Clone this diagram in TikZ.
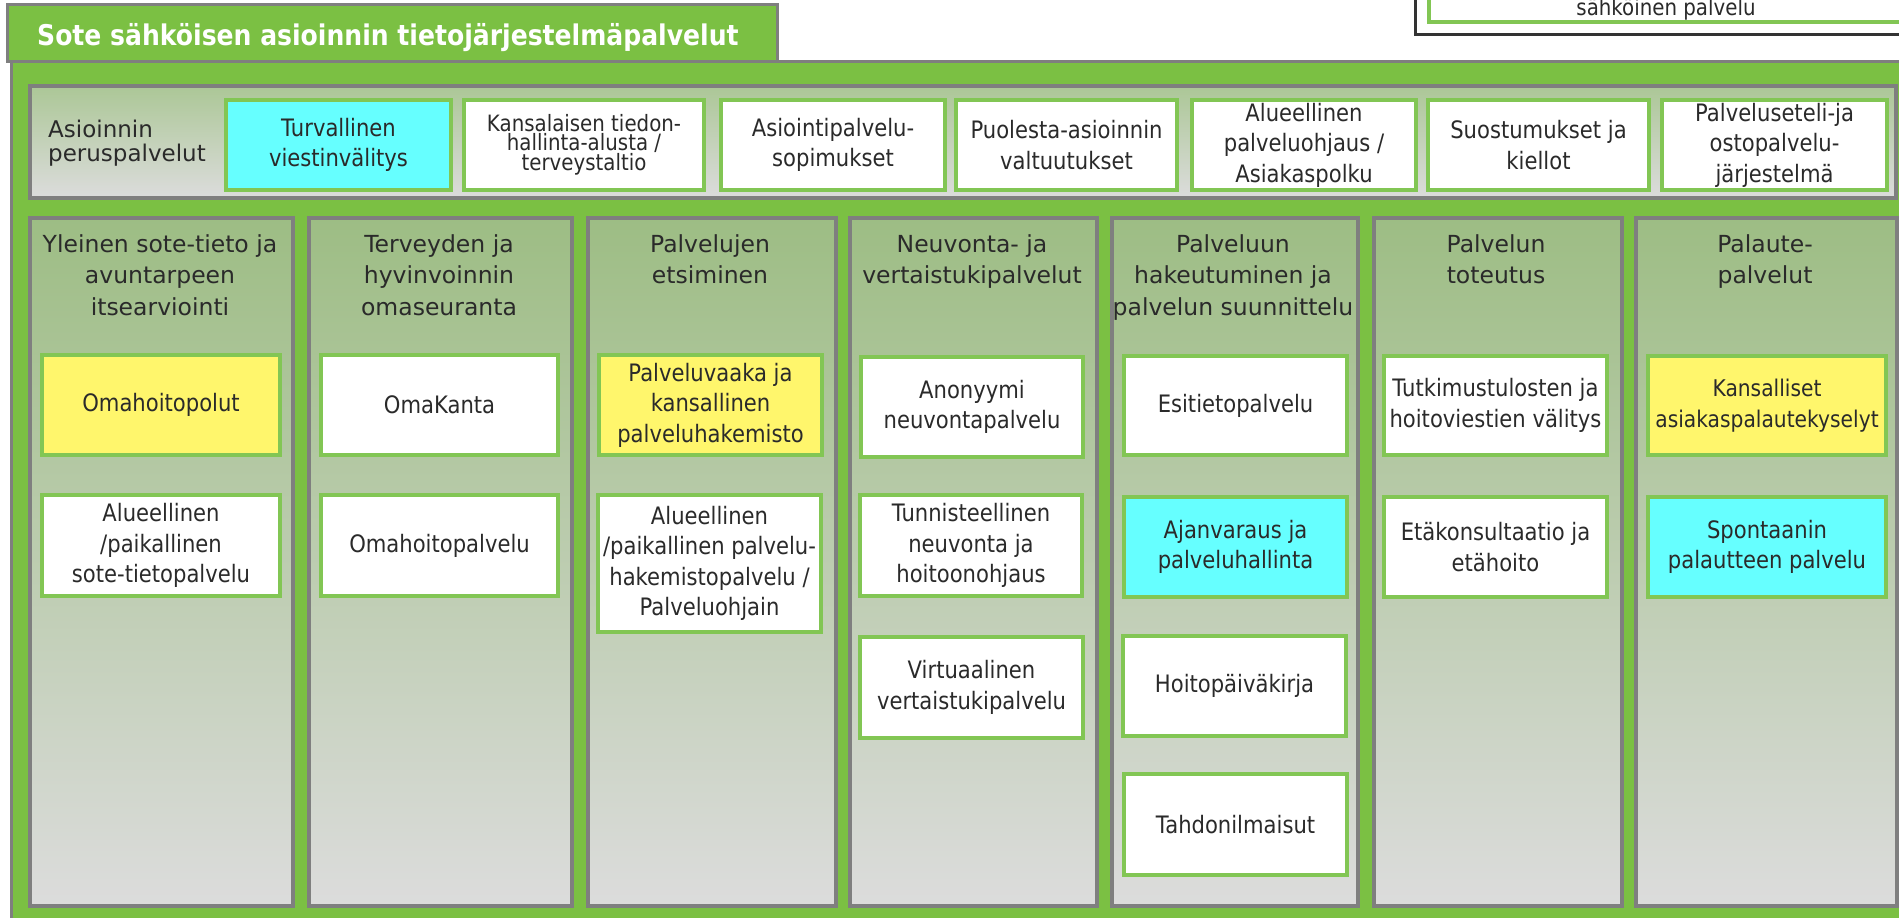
\documentclass[tikz,border=0pt]{standalone}
\usepackage{fontspec}
\setmainfont{DejaVu Sans}
\newfontfamily\nfont[FakeStretch=0.88]{DejaVu Sans}
\definecolor{grn}{HTML}{7BC043}
\definecolor{bgrn}{HTML}{82C654}
\definecolor{cyn}{HTML}{66FFFF}
\definecolor{ylw}{HTML}{FFF66C}
\definecolor{pgray}{HTML}{7F7F7F}
\definecolor{ptop}{HTML}{9DBD84}
\definecolor{pbot}{HTML}{DCDCDC}
\definecolor{txt}{HTML}{2A2A2A}
\tikzset{
  panel/.style={draw=pgray, line width=4pt, top color=ptop, bottom color=pbot, inner sep=0pt, anchor=north west},
  svc/.style={draw=bgrn, line width=4pt, fill=white, inner sep=1pt, anchor=north west, align=center,
              font=\nfont\fontsize{24}{30.5}\selectfont, text=txt},
  cyanbox/.style={svc, fill=cyn},
  yellowbox/.style={svc, fill=ylw},
  head/.style={anchor=north, align=center, inner sep=0pt, font=\fontsize{23.5}{31.5}\selectfont, text=txt}
}
\newcommand\bx[7]{%
  \pgfmathsetmacro\bxw{#5-#3-4}\pgfmathsetmacro\bxh{#6-#4-4}%
  \node[#2, minimum width=\bxw pt, minimum height=\bxh pt] (#1) at (#3+2,#4+2) {#7};}
\begin{document}
\begin{tikzpicture}[x=1pt,y=-1pt]
\useasboundingbox (0,0) rectangle (1899,918);
\fill[white] (0,0) rectangle (1899,918);
\clip (0,0) rectangle (1899,918);
% outer green panel
\node[draw=pgray, line width=3pt, fill=grn, inner sep=0pt, anchor=north west,
      minimum width=1920pt, minimum height=880pt] (outer) at (10,60) {};
% title tab
\node[draw=pgray, line width=3pt, fill=grn, inner sep=0pt, anchor=north west,
      minimum width=770pt, minimum height=57pt] (tab) at (6,3) {};
\node[anchor=base west, inner sep=0pt, text=white,
      font=\nfont\bfseries\fontsize{28.5}{30}\selectfont] (title) at (37,45)
      {Sote sähköisen asioinnin tietojärjestelmäpalvelut};
% legend box (cut by the top and right edges)
\node[draw=black!80, line width=2.5pt, fill=white, inner sep=0pt, anchor=north west,
      minimum width=520pt, minimum height=45pt] (legend) at (1414,-12) {};
\node[draw=bgrn, line width=3.5pt, fill=white, inner sep=0pt, anchor=north west,
      minimum width=500pt, minimum height=32pt] (legendin) at (1427,-12) {};
\node[anchor=base, inner sep=0pt, text=txt, font=\nfont\fontsize{22.5}{24}\selectfont]
      (legendtxt) at (1666,16) {sähköinen palvelu};
% top row panel
\node[panel, top color=ptop!85!white, minimum width=1866pt, minimum height=112pt] (toprow) at (28,84) {};
\node[anchor=north west, align=left, inner sep=0pt, text=txt,
      font=\fontsize{23}{24}\selectfont] (asioinnin) at (48,120) {Asioinnin\\peruspalvelut};
\bx{t1}{cyanbox}{222}{96}{451}{190}{Turvallinen\\viestinvälitys}
\bx{t2}{svc,font=\nfont\fontsize{22.5}{19}\selectfont}{460}{96}{704}{190}{Kansalaisen tiedon-\\hallinta-alusta /\\terveystaltio}
\bx{t3}{svc}{717}{96}{945}{190}{Asiointipalvelu-\\sopimukset}
\bx{t4}{svc}{952}{96}{1177}{190}{Puolesta-asioinnin\\valtuutukset}
\bx{t5}{svc}{1188}{96}{1416}{190}{Alueellinen\\palveluohjaus /\\Asiakaspolku}
\bx{t6}{svc}{1424}{96}{1649}{190}{Suostumukset ja\\kiellot}
\bx{t7}{svc}{1658}{96}{1887}{190}{Palveluseteli-ja\\ostopalvelu-\\järjestelmä}
% column panels
\node[panel, minimum width=263pt, minimum height=688pt] (col1) at (28,216) {};
\node[panel, minimum width=263pt, minimum height=688pt] (col2) at (307,216) {};
\node[panel, minimum width=248pt, minimum height=688pt] (col3) at (586,216) {};
\node[panel, minimum width=247pt, minimum height=688pt] (col4) at (848,216) {};
\node[panel, minimum width=246pt, minimum height=688pt] (col5) at (1110,216) {};
\node[panel, minimum width=248pt, minimum height=688pt] (col6) at (1372,216) {};
\node[panel, minimum width=261pt, minimum height=688pt] (col7) at (1634,216) {};
% column headings
\node[head] (h1) at (160,234) {Yleinen sote-tieto ja\\avuntarpeen\\itsearviointi};
\node[head] (h2) at (439,234) {Terveyden ja\\hyvinvoinnin\\omaseuranta};
\node[head] (h3) at (710,234) {Palvelujen\\etsiminen};
\node[head] (h4) at (972,234) {Neuvonta- ja\\vertaistukipalvelut};
\node[head] (h5) at (1233,234) {Palveluun\\hakeutuminen ja\\palvelun suunnittelu};
\node[head] (h6) at (1496,234) {Palvelun\\toteutus};
\node[head] (h7) at (1765,234) {Palaute-\\palvelut};
% column 1
\bx{c1a}{yellowbox}{38}{351}{280}{455}{Omahoitopolut}
\bx{c1b}{svc}{38}{491}{280}{596}{Alueellinen\\/paikallinen\\sote-tietopalvelu}
% column 2
\bx{c2a}{svc}{317}{351}{558}{455}{OmaKanta}
\bx{c2b}{svc}{317}{491}{558}{596}{Omahoitopalvelu}
% column 3
\bx{c3a}{yellowbox}{595}{351}{822}{455}{Palveluvaaka ja\\kansallinen\\palveluhakemisto}
\bx{c3b}{svc}{594}{491}{821}{632}{Alueellinen\\/paikallinen palvelu-\\hakemistopalvelu /\\Palveluohjain}
% column 4
\bx{c4a}{svc}{857}{353}{1083}{457}{Anonyymi\\neuvontapalvelu}
\bx{c4b}{svc}{856}{491}{1082}{596}{Tunnisteellinen\\neuvonta ja\\hoitoonohjaus}
\bx{c4c}{svc}{856}{633}{1083}{738}{Virtuaalinen\\vertaistukipalvelu}
% column 5
\bx{c5a}{svc}{1120}{352}{1347}{455}{Esitietopalvelu}
\bx{c5b}{cyanbox}{1120}{493}{1347}{597}{Ajanvaraus ja\\palveluhallinta}
\bx{c5c}{svc}{1119}{632}{1346}{736}{Hoitopäiväkirja}
\bx{c5d}{svc}{1120}{770}{1347}{875}{Tahdonilmaisut}
% column 6
\bx{c6a}{svc}{1380}{352}{1607}{455}{Tutkimustulosten ja\\hoitoviestien välitys}
\bx{c6b}{svc}{1380}{493}{1607}{597}{Etäkonsultaatio ja\\etähoito}
% column 7
\bx{c7a}{yellowbox,font=\nfont\fontsize{23}{30.5}\selectfont}{1644}{352}{1886}{455}{Kansalliset\\asiakaspalautekyselyt}
\bx{c7b}{cyanbox}{1644}{493}{1886}{597}{Spontaanin\\palautteen palvelu}
\end{tikzpicture}
\end{document}
